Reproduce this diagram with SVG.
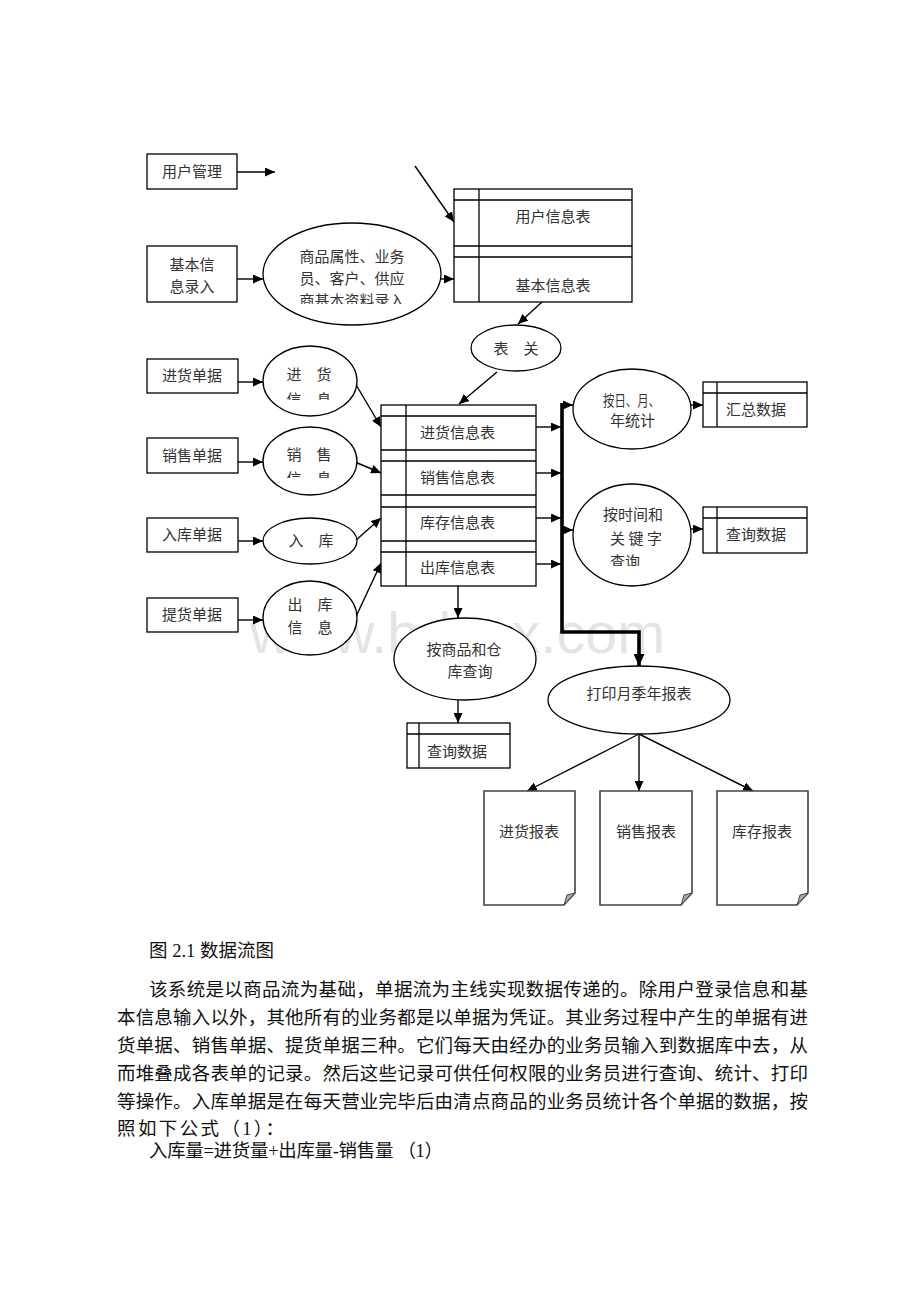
<svg xmlns="http://www.w3.org/2000/svg" width="920" height="1302" viewBox="0 0 920 1302">
<style>
.bx{fill:#fff;stroke:#000;stroke-width:1.3}
.el{fill:#fff;stroke:#000;stroke-width:1.3}
.ln{fill:none;stroke:#000;stroke-width:1.3}
.c{stroke:#000;stroke-width:1.4;fill:none}
.t{font-family:"Liberation Serif","Noto Sans CJK SC",serif;font-size:15px;fill:#333;text-anchor:middle;dominant-baseline:central}
.tl{font-family:"Liberation Serif","Noto Sans CJK SC",serif;font-size:15px;fill:#333;dominant-baseline:central}
.p{font-family:"Liberation Serif","Noto Sans CJK SC",serif;font-size:18.5px;fill:#111;dominant-baseline:central}
.doc{fill:#fff;stroke:#444;stroke-width:1.6}
.wm{font-family:"Liberation Sans",Arial,sans-serif;font-size:57px;fill:#e4e4e4}
</style>
<defs>
<marker id="ah" markerUnits="userSpaceOnUse" markerWidth="11" markerHeight="9" refX="10" refY="4.5" orient="auto">
<path d="M0,0 L10,4.5 L0,9 z" fill="#000"/>
</marker>
<marker id="ahb" markerUnits="userSpaceOnUse" markerWidth="13" markerHeight="11" refX="12" refY="5.5" orient="auto">
<path d="M0,0 L12,5.5 L0,11 z" fill="#000"/>
</marker>
<clipPath id="cp1"><rect x="250" y="225" width="200" height="79"/></clipPath>
<clipPath id="cp2"><rect x="260" y="340" width="100" height="60"/></clipPath>
<clipPath id="cp3"><rect x="260" y="420" width="100" height="58"/></clipPath>
<clipPath id="cp4"><rect x="570" y="480" width="130" height="86"/></clipPath>
</defs>
<rect width="920" height="1302" fill="#fff"/>
<text class="wm" x="250" y="653" textLength="415" lengthAdjust="spacingAndGlyphs">www.bdocx.com</text>

<g id="connectors">
<line class="c" x1="237" y1="172" x2="275" y2="172" marker-end="url(#ah)"/>
<line class="c" x1="415" y1="166" x2="454" y2="222" marker-end="url(#ah)"/>
<line class="c" x1="237" y1="279" x2="263" y2="279" marker-end="url(#ah)"/>
<line class="c" x1="441" y1="279" x2="454" y2="279" marker-end="url(#ah)"/>
<line class="c" x1="542" y1="302" x2="518" y2="324" marker-end="url(#ah)"/>
<line class="c" x1="497" y1="372" x2="459" y2="404" marker-end="url(#ah)"/>
<line class="c" x1="238" y1="382" x2="263" y2="382" marker-end="url(#ah)"/>
<line class="c" x1="238" y1="462" x2="263" y2="462" marker-end="url(#ah)"/>
<line class="c" x1="238" y1="541" x2="263" y2="541" marker-end="url(#ah)"/>
<line class="c" x1="238" y1="620" x2="263" y2="620" marker-end="url(#ah)"/>
<line class="c" x1="355" y1="383" x2="381" y2="427" marker-end="url(#ah)"/>
<line class="c" x1="355" y1="462" x2="381" y2="473" marker-end="url(#ah)"/>
<line class="c" x1="355" y1="541" x2="381" y2="518" marker-end="url(#ah)"/>
<line class="c" x1="353" y1="623" x2="381" y2="563" marker-end="url(#ah)"/>
<line class="c" x1="536" y1="427" x2="561" y2="427" marker-end="url(#ah)"/>
<line class="c" x1="536" y1="473" x2="561" y2="473" marker-end="url(#ah)"/>
<line class="c" x1="536" y1="518" x2="561" y2="518" marker-end="url(#ah)"/>
<line class="c" x1="536" y1="564" x2="561" y2="564" marker-end="url(#ah)"/>
<line class="c" x1="562" y1="405" x2="573" y2="405" marker-end="url(#ah)"/>
<line class="c" x1="562" y1="530" x2="573" y2="530" marker-end="url(#ah)"/>
<line class="c" x1="691" y1="405" x2="703" y2="405" marker-end="url(#ah)"/>
<line class="c" x1="691" y1="529" x2="703" y2="529" marker-end="url(#ah)"/>
<line class="c" x1="458" y1="586" x2="458" y2="618" marker-end="url(#ah)"/>
<line class="c" x1="458" y1="700" x2="458" y2="723" marker-end="url(#ah)"/>
<path d="M562,403 V632 H639 V666" fill="none" stroke="#000" stroke-width="3.6" marker-end="url(#ahb)"/>
<line class="c" x1="639" y1="734" x2="527" y2="791" marker-end="url(#ah)"/>
<line class="c" x1="639" y1="734" x2="639" y2="791" marker-end="url(#ah)"/>
<line class="c" x1="639" y1="734" x2="753" y2="791" marker-end="url(#ah)"/>
</g>

<g id="n-yhgl"><rect class="bx" x="147" y="154" width="90" height="35"/><text class="t" x="192" y="172">用户管理</text></g>
<g id="n-jbxxlr"><rect class="bx" x="147" y="246" width="90" height="56"/><text class="t" x="192" y="265">基本信</text><text class="t" x="192" y="287">息录入</text></g>
<g id="n-spsx"><ellipse class="el" cx="352" cy="274" rx="89" ry="51"/>
<g clip-path="url(#cp1)"><text class="t" x="352" y="257">商品属性、业务</text><text class="t" x="352" y="279">员、客户、供应</text><text class="t" x="352" y="301">商基本资料录入</text></g></g>
<g id="n-userdb"><rect class="bx" x="454" y="189" width="178" height="113"/>
<line class="ln" x1="454" y1="200" x2="632" y2="200"/><line class="ln" x1="454" y1="246" x2="632" y2="246"/><line class="ln" x1="454" y1="257" x2="632" y2="257"/><line class="ln" x1="479" y1="189" x2="479" y2="302"/>
<text class="t" x="553" y="217">用户信息表</text><text class="t" x="553" y="286">基本信息表</text></g>
<g id="n-bg"><ellipse class="el" cx="516" cy="348" rx="45" ry="23"/><text class="t" x="516" y="349">表　关</text></g>

<g id="n-jhdj"><rect class="bx" x="147" y="359" width="91" height="34"/><text class="t" x="192" y="376">进货单据</text></g>
<g id="n-xsdj"><rect class="bx" x="147" y="438" width="91" height="35"/><text class="t" x="192" y="456">销售单据</text></g>
<g id="n-rkdj"><rect class="bx" x="147" y="518" width="91" height="34"/><text class="t" x="192" y="535">入库单据</text></g>
<g id="n-thdj"><rect class="bx" x="147" y="598" width="91" height="34"/><text class="t" x="192" y="615">提货单据</text></g>

<g id="n-jhxx"><ellipse class="el" cx="310" cy="381" rx="47" ry="35"/><g clip-path="url(#cp2)"><text class="t" x="309" y="375">进　货</text><text class="t" x="309" y="400">信　息</text></g></g>
<g id="n-xsxx"><ellipse class="el" cx="310" cy="461" rx="47" ry="34"/><g clip-path="url(#cp3)"><text class="t" x="309" y="455">销　售</text><text class="t" x="309" y="479">信　息</text></g></g>
<g id="n-rk"><ellipse class="el" cx="310" cy="541" rx="47" ry="23"/><text class="t" x="311" y="541">入　库</text></g>
<g id="n-ckxx"><ellipse class="el" cx="310" cy="618" rx="47" ry="37"/><text class="t" x="310" y="605">出　库</text><text class="t" x="310" y="628">信　息</text></g>

<g id="n-main"><rect class="bx" x="381" y="405" width="155" height="181"/>
<line class="ln" x1="381" y1="416" x2="536" y2="416"/><line class="ln" x1="381" y1="450" x2="536" y2="450"/><line class="ln" x1="381" y1="461" x2="536" y2="461"/><line class="ln" x1="381" y1="495" x2="536" y2="495"/><line class="ln" x1="381" y1="507" x2="536" y2="507"/><line class="ln" x1="381" y1="541" x2="536" y2="541"/><line class="ln" x1="381" y1="552" x2="536" y2="552"/><line class="ln" x1="406" y1="405" x2="406" y2="586"/>
<text class="tl" x="420" y="433">进货信息表</text><text class="tl" x="420" y="478">销售信息表</text><text class="tl" x="420" y="523">库存信息表</text><text class="tl" x="420" y="568">出库信息表</text></g>

<g id="n-arytj"><ellipse class="el" cx="632" cy="409" rx="59" ry="40"/><text class="tl" x="603" y="401" textLength="57" lengthAdjust="spacingAndGlyphs">按日、月、</text><text class="tl" x="610" y="421">年统计</text></g>
<g id="n-hzsj"><rect class="bx" x="703" y="382" width="104" height="45"/><line class="ln" x1="703" y1="393" x2="807" y2="393"/><line class="ln" x1="717" y1="382" x2="717" y2="427"/><text class="t" x="756" y="410">汇总数据</text></g>
<g id="n-asjcx"><ellipse class="el" cx="632" cy="535" rx="59" ry="51"/><g clip-path="url(#cp4)"><text class="tl" x="603" y="515">按时间和</text><text class="tl" x="610" y="539" textLength="52">关 键 字</text><text class="tl" x="610" y="562">查询</text></g></g>
<g id="n-cxsj1"><rect class="bx" x="703" y="507" width="104" height="46"/><line class="ln" x1="703" y1="518" x2="807" y2="518"/><line class="ln" x1="717" y1="507" x2="717" y2="553"/><text class="t" x="756" y="535">查询数据</text></g>

<g id="n-aspcx"><ellipse class="el" cx="465" cy="659" rx="71" ry="41"/><text class="t" x="464" y="650">按商品和仓</text><text class="t" x="470" y="672">库查询</text></g>
<g id="n-cxsj2"><rect class="bx" x="407" y="723" width="103" height="45"/><line class="ln" x1="407" y1="734" x2="510" y2="734"/><line class="ln" x1="419" y1="723" x2="419" y2="768"/><text class="t" x="457" y="752">查询数据</text></g>

<g id="n-dy"><ellipse class="el" cx="639" cy="700" rx="91" ry="34"/><text class="t" x="639" y="694">打印月季年报表</text></g>

<g id="n-jhbb"><path class="doc" d="M484,791 H575 V893 L564,905 H484 Z"/><path d="M575,893 L564,905 L567,895 Z" fill="#aaa" stroke="#444" stroke-width="1"/><text class="t" x="529" y="832">进货报表</text></g>
<g id="n-xsbb"><path class="doc" d="M600,791 H692 V893 L681,905 H600 Z"/><path d="M692,893 L681,905 L684,895 Z" fill="#aaa" stroke="#444" stroke-width="1"/><text class="t" x="646" y="832">销售报表</text></g>
<g id="n-kcbb"><path class="doc" d="M717,791 H808 V893 L797,905 H717 Z"/><path d="M808,893 L797,905 L800,895 Z" fill="#aaa" stroke="#444" stroke-width="1"/><text class="t" x="762" y="832">库存报表</text></g>

<g id="caption">
<text class="p" x="149" y="951">图 2.1 数据流图</text>
<text class="p" x="149" y="990" textLength="659">该系统是以商品流为基础，单据流为主线实现数据传递的。除用户登录信息和基</text>
<text class="p" x="117" y="1018" textLength="691">本信息输入以外，其他所有的业务都是以单据为凭证。其业务过程中产生的单据有进</text>
<text class="p" x="117" y="1046" textLength="691">货单据、销售单据、提货单据三种。它们每天由经办的业务员输入到数据库中去，从</text>
<text class="p" x="117" y="1074" textLength="691">而堆叠成各表单的记录。然后这些记录可供任何权限的业务员进行查询、统计、打印</text>
<text class="p" x="117" y="1102" textLength="691">等操作。入库单据是在每天营业完毕后由清点商品的业务员统计各个单据的数据，按</text>
<text class="p" x="117" y="1129" textLength="167">照如下公式（1）：</text>
<text class="p" x="149" y="1151" textLength="294">入库量=进货量+出库量-销售量 （1）</text>
</g>
</svg>
